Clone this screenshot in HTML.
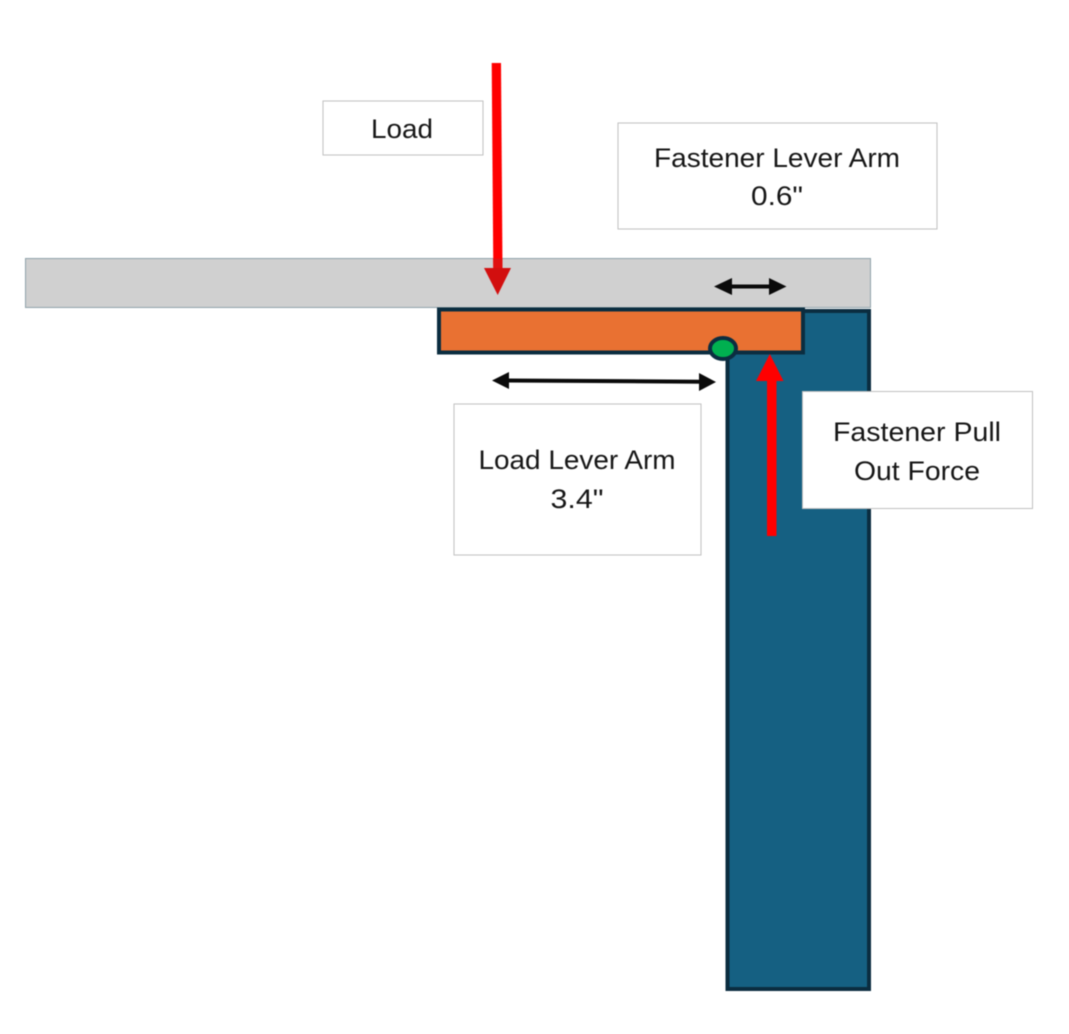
<!DOCTYPE html>
<html>
<head>
<meta charset="utf-8">
<style>
html,body{margin:0;padding:0;background:#fff;}
svg{display:block;filter:blur(0.4px);}
text{font-family:"Liberation Sans",sans-serif;font-size:27px;fill:#161616;text-anchor:middle;}
</style>
</head>
<body>
<svg width="1069" height="1034" viewBox="0 0 1069 1034" xmlns="http://www.w3.org/2000/svg">
<rect x="0" y="0" width="1069" height="1034" fill="#ffffff"/>
<!-- grey bar -->
<rect x="25.5" y="258.5" width="845" height="49" fill="#d0d0d0" stroke="#8fa2aa" stroke-width="1"/>
<!-- blue post -->
<rect x="727.5" y="311" width="141.500" height="678" fill="#156082" stroke="#0b2d40" stroke-width="4"/>
<!-- orange -->
<rect x="439" y="309.500" width="364" height="43" fill="#e97132" stroke="#0b2d40" stroke-width="4"/>
<!-- fastener -->
<ellipse cx="723" cy="348.500" rx="13" ry="10.500" fill="#00b050" stroke="#0b2d40" stroke-width="4"/>
<!-- load arrow -->
<polygon points="491.700,63 501,63 502.500,268 493.300,268" fill="#ff0000"/>
<polygon points="493.100,258.500 502.400,258.500 502.500,268 493.300,268" fill="#e01010"/>
<polygon points="484,268 511,268 497.700,295" fill="#d20f0f"/>
<!-- pull out arrow -->
<rect x="767" y="380" width="9.500" height="156" fill="#ff0000"/>
<polygon points="769.800,354 783.500,381 756,381" fill="#ff0000"/>
<!-- fastener lever arrow -->
<line x1="728" y1="286.500" x2="772" y2="286.500" stroke="#0a0a0a" stroke-width="4"/>
<polygon points="714,286.500 732,278 732,295" fill="#0a0a0a"/>
<polygon points="786.500,286.500 769,278 769,295" fill="#0a0a0a"/>
<!-- load lever arrow -->
<line x1="505" y1="380.500" x2="703" y2="381.700" stroke="#0a0a0a" stroke-width="4"/>
<polygon points="492,380.500 509,372 509,389" fill="#0a0a0a"/>
<polygon points="716,382 699,373 699,391" fill="#0a0a0a"/>
<!-- labels -->
<rect x="323" y="101" width="160" height="54" fill="#fff" stroke="#c0c0c0" stroke-width="1"/>
<text x="402" y="138" textLength="62" lengthAdjust="spacingAndGlyphs">Load</text>
<rect x="618" y="123" width="319" height="106" fill="#fff" stroke="#c0c0c0" stroke-width="1"/>
<text x="777" y="167" textLength="246" lengthAdjust="spacingAndGlyphs">Fastener Lever Arm</text>
<text x="777" y="205" textLength="52" lengthAdjust="spacingAndGlyphs">0.6"</text>
<rect x="454" y="404" width="247" height="151" fill="#fff" stroke="#c0c0c0" stroke-width="1"/>
<text x="577" y="469" textLength="197" lengthAdjust="spacingAndGlyphs">Load Lever Arm</text>
<text x="577" y="508" textLength="53" lengthAdjust="spacingAndGlyphs">3.4"</text>
<rect x="802.500" y="391.500" width="230" height="117" fill="#fff" stroke="#c0c0c0" stroke-width="1"/>
<text x="917" y="441" textLength="168" lengthAdjust="spacingAndGlyphs">Fastener Pull</text>
<text x="917" y="480" textLength="126" lengthAdjust="spacingAndGlyphs">Out Force</text>
</svg>
</body>
</html>
